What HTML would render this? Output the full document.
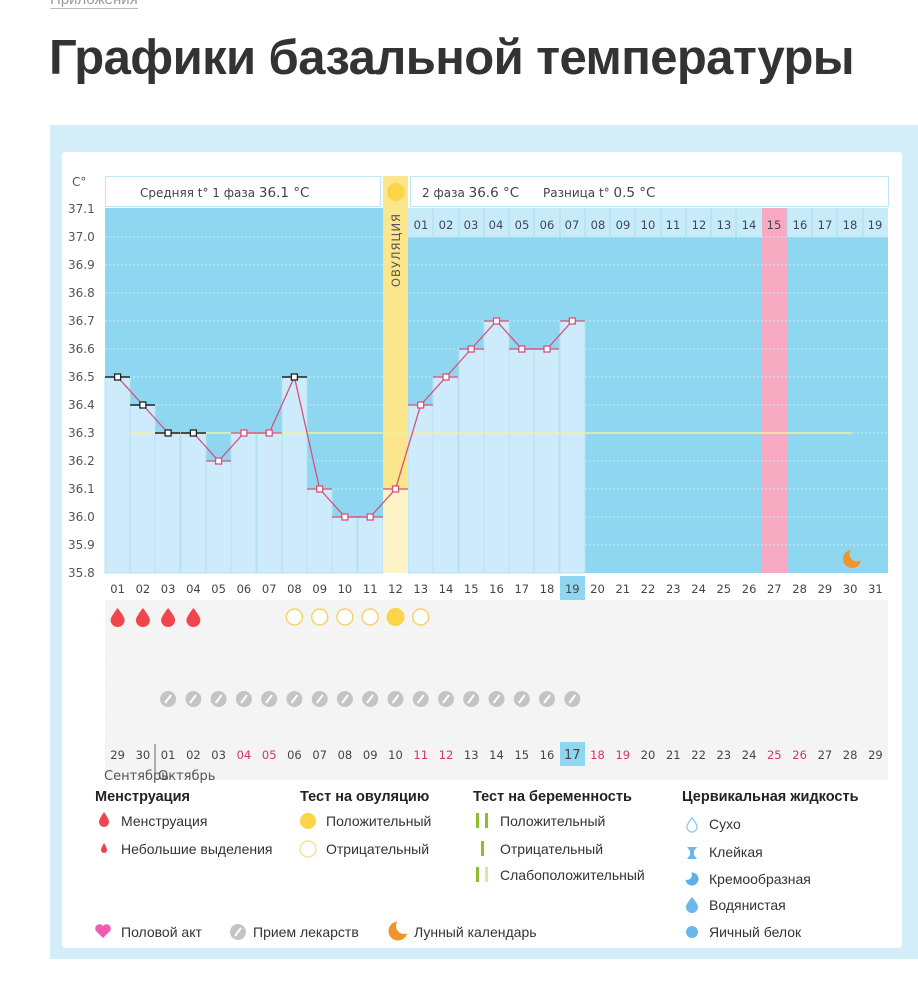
<!DOCTYPE html>
<html><head><meta charset="utf-8"><style>
body{margin:0;width:918px;height:1000px;background:#fff;overflow:hidden;font-family:"Liberation Sans","DejaVu Sans",sans-serif;position:relative}
.t{position:absolute;left:49px;top:30px;font-size:49px;font-weight:bold;color:#333;letter-spacing:-0.6px;white-space:nowrap}
.top{position:absolute;left:50px;top:-9px;font-size:15px;color:#999;border-bottom:1px solid #bbb}
svg{position:absolute;left:0;top:0}
svg text{font-family:"DejaVu Sans","Liberation Sans",sans-serif}
svg .lg text{font-family:"Liberation Sans","DejaVu Sans",sans-serif}
</style></head><body>
<div class="top">Приложения</div>
<div class="t">Графики базальной температуры</div>
<svg width="918" height="1000" viewBox="0 0 918 1000">
<rect x="50" y="125" width="868" height="834" fill="#d3eef8"/>
<rect x="62" y="152" width="840" height="796" fill="#fff" rx="3"/>
<rect x="105" y="208" width="783" height="365" fill="#8fd6f1"/>
<rect x="408" y="208" width="480" height="29" fill="#c7ebf9"/>
<rect x="762" y="208" width="25" height="365" fill="#f7aac2"/>
<g stroke="#c8eefa" stroke-width="1" stroke-dasharray="2,2">
<line x1="105" y1="237" x2="888" y2="237"/><line x1="105" y1="265" x2="888" y2="265"/><line x1="105" y1="293" x2="888" y2="293"/><line x1="105" y1="321" x2="888" y2="321"/><line x1="105" y1="349" x2="888" y2="349"/><line x1="105" y1="377" x2="888" y2="377"/><line x1="105" y1="405" x2="888" y2="405"/><line x1="105" y1="433" x2="888" y2="433"/><line x1="105" y1="461" x2="888" y2="461"/><line x1="105" y1="489" x2="888" y2="489"/><line x1="105" y1="517" x2="888" y2="517"/><line x1="105" y1="545" x2="888" y2="545"/>
</g>
<g fill="#cdebfa" stroke="#b5e0f4" stroke-width="1">
<rect x="105" y="377" width="25" height="196"/><rect x="130" y="405" width="25" height="168"/><rect x="155" y="433" width="25" height="140"/><rect x="181" y="433" width="25" height="140"/><rect x="206" y="461" width="25" height="112"/><rect x="231" y="433" width="25" height="140"/><rect x="257" y="433" width="25" height="140"/><rect x="282" y="377" width="25" height="196"/><rect x="307" y="489" width="25" height="84"/><rect x="332" y="517" width="25" height="56"/><rect x="358" y="517" width="25" height="56"/>
<rect x="408" y="405" width="25" height="168"/><rect x="433" y="377" width="25" height="196"/><rect x="459" y="349" width="25" height="224"/><rect x="484" y="321" width="25" height="252"/><rect x="509" y="349" width="25" height="224"/><rect x="534" y="349" width="25" height="224"/><rect x="560" y="321" width="25" height="252"/>
</g>
<rect x="383" y="176" width="25" height="397" fill="#fbe68c"/>
<rect x="383" y="489" width="25" height="84" fill="#fdf3c6"/>
<line x1="130" y1="433" x2="852" y2="433" stroke="#f3ef9a" stroke-width="1.5"/>
<g stroke="#a9dcf1" stroke-width="1">
<line x1="433" y1="208" x2="433" y2="237"/><line x1="459" y1="208" x2="459" y2="237"/><line x1="484" y1="208" x2="484" y2="237"/><line x1="509" y1="208" x2="509" y2="237"/><line x1="534" y1="208" x2="534" y2="237"/><line x1="560" y1="208" x2="560" y2="237"/><line x1="585" y1="208" x2="585" y2="237"/><line x1="610" y1="208" x2="610" y2="237"/><line x1="635" y1="208" x2="635" y2="237"/><line x1="661" y1="208" x2="661" y2="237"/><line x1="686" y1="208" x2="686" y2="237"/><line x1="711" y1="208" x2="711" y2="237"/><line x1="736" y1="208" x2="736" y2="237"/><line x1="787" y1="208" x2="787" y2="237"/><line x1="812" y1="208" x2="812" y2="237"/><line x1="837" y1="208" x2="837" y2="237"/><line x1="863" y1="208" x2="863" y2="237"/>
</g>
<g font-size="11.5" fill="#445" text-anchor="middle">
<text x="421" y="229">01</text><text x="446" y="229">02</text><text x="471" y="229">03</text><text x="496" y="229">04</text><text x="522" y="229">05</text><text x="547" y="229">06</text><text x="572" y="229">07</text><text x="598" y="229">08</text><text x="623" y="229">09</text><text x="648" y="229">10</text><text x="673" y="229">11</text><text x="699" y="229">12</text><text x="724" y="229">13</text><text x="749" y="229">14</text><text x="774" y="229">15</text><text x="800" y="229">16</text><text x="825" y="229">17</text><text x="850" y="229">18</text><text x="875" y="229">19</text>
</g>
<text x="400" y="250" font-size="11.5" fill="#555" transform="rotate(-90 400 250)" text-anchor="middle" letter-spacing="1">ОВУЛЯЦИЯ</text>
<rect x="105.5" y="176.5" width="275" height="30" fill="#fff" stroke="#bfe6f5"/>
<rect x="410.5" y="176.5" width="478" height="30" fill="#fff" stroke="#bfe6f5"/>
<circle cx="396" cy="192" r="9" fill="#fbd447"/>
<text x="140" y="197" font-size="12" fill="#444">Средняя t° 1 фаза <tspan font-size="13.5">36.1 °C</tspan></text>
<text x="422" y="197" font-size="12" fill="#444">2 фаза <tspan font-size="13.5">36.6 °C</tspan></text>
<text x="543" y="197" font-size="12" fill="#444">Разница t° <tspan font-size="13.5">0.5 °C</tspan></text>
<g font-size="12" fill="#555">
<text x="72" y="186">C°</text>
<text x="68" y="213">37.1</text><text x="68" y="241">37.0</text><text x="68" y="269">36.9</text><text x="68" y="297">36.8</text><text x="68" y="325">36.7</text><text x="68" y="353">36.6</text><text x="68" y="381">36.5</text><text x="68" y="409">36.4</text><text x="68" y="437">36.3</text><text x="68" y="465">36.2</text><text x="68" y="493">36.1</text><text x="68" y="521">36.0</text><text x="68" y="549">35.9</text><text x="68" y="577">35.8</text>
</g>
<polyline fill="none" stroke="#d9507a" stroke-width="1.3" points="117.6,377 142.9,405 168.1,433 193.4,433 218.6,461 243.9,433 269.2,433 294.4,377 319.7,489 344.9,517 370.2,517 395.5,489 420.7,405 446,377 471.2,349 496.5,321 521.8,349 547,349 572.3,321"/>
<g stroke="#222" stroke-width="1.5">
<line x1="105" y1="377" x2="130" y2="377"/><line x1="130" y1="405" x2="155" y2="405"/><line x1="155" y1="433" x2="180" y2="433"/><line x1="181" y1="433" x2="206" y2="433"/><line x1="282" y1="377" x2="307" y2="377"/>
</g>
<g stroke="#d9507a" stroke-width="1.2">
<line x1="206" y1="461" x2="231" y2="461"/><line x1="231" y1="433" x2="256" y2="433"/><line x1="257" y1="433" x2="282" y2="433"/><line x1="307" y1="489" x2="332" y2="489"/><line x1="332" y1="517" x2="357" y2="517"/><line x1="358" y1="517" x2="383" y2="517"/><line x1="383" y1="489" x2="408" y2="489"/><line x1="408" y1="405" x2="433" y2="405"/><line x1="433" y1="377" x2="458" y2="377"/><line x1="459" y1="349" x2="484" y2="349"/><line x1="484" y1="321" x2="509" y2="321"/><line x1="509" y1="349" x2="534" y2="349"/><line x1="534" y1="349" x2="559" y2="349"/><line x1="560" y1="321" x2="585" y2="321"/>
</g>
<g fill="#fff" stroke="#222" stroke-width="1.3">
<rect x="114.6" y="374" width="6" height="6"/><rect x="139.9" y="402" width="6" height="6"/><rect x="165.1" y="430" width="6" height="6"/><rect x="190.4" y="430" width="6" height="6"/><rect x="291.4" y="374" width="6" height="6"/>
</g>
<g fill="#fff" stroke="#d9507a" stroke-width="1.3">
<rect x="215.6" y="458" width="6" height="6"/><rect x="240.9" y="430" width="6" height="6"/><rect x="266.2" y="430" width="6" height="6"/><rect x="316.7" y="486" width="6" height="6"/><rect x="341.9" y="514" width="6" height="6"/><rect x="367.2" y="514" width="6" height="6"/><rect x="392.5" y="486" width="6" height="6"/><rect x="417.7" y="402" width="6" height="6"/><rect x="443" y="374" width="6" height="6"/><rect x="468.2" y="346" width="6" height="6"/><rect x="493.5" y="318" width="6" height="6"/><rect x="518.8" y="346" width="6" height="6"/><rect x="544" y="346" width="6" height="6"/><rect x="569.3" y="318" width="6" height="6"/>
</g>
<circle cx="852" cy="559" r="9" fill="#f0952a"/><circle cx="857" cy="554" r="7.5" fill="#8fd6f1"/>
<rect x="105" y="600" width="783" height="180" fill="#f4f4f4"/>
<g stroke="#f9f9f9" stroke-width="1">
<line x1="105" y1="630" x2="888" y2="630"/><line x1="105" y1="660" x2="888" y2="660"/><line x1="105" y1="685" x2="888" y2="685"/><line x1="105" y1="715" x2="888" y2="715"/><line x1="105" y1="740" x2="888" y2="740"/>
</g>
<rect x="560" y="576" width="25" height="24" fill="#8fd6f1"/>
<rect x="560" y="742" width="25" height="24" fill="#8fd6f1"/>
<g font-size="11.5" fill="#444" text-anchor="middle">
<text x="117.6" y="593">01</text><text x="142.9" y="593">02</text><text x="168.1" y="593">03</text><text x="193.4" y="593">04</text><text x="218.6" y="593">05</text><text x="243.9" y="593">06</text><text x="269.2" y="593">07</text><text x="294.4" y="593">08</text><text x="319.7" y="593">09</text><text x="344.9" y="593">10</text><text x="370.2" y="593">11</text><text x="395.5" y="593">12</text><text x="420.7" y="593">13</text><text x="446" y="593">14</text><text x="471.2" y="593">15</text><text x="496.5" y="593">16</text><text x="521.8" y="593">17</text><text x="547" y="593">18</text><text x="572.3" y="593">19</text><text x="597.5" y="593">20</text><text x="622.8" y="593">21</text><text x="648" y="593">22</text><text x="673.3" y="593">23</text><text x="698.6" y="593">24</text><text x="723.8" y="593">25</text><text x="749.1" y="593">26</text><text x="774.3" y="593">27</text><text x="799.6" y="593">28</text><text x="824.9" y="593">29</text><text x="850.1" y="593">30</text><text x="875.4" y="593">31</text>
</g>
<g font-size="11.5" fill="#444" text-anchor="middle">
<text x="117.6" y="759">29</text><text x="142.9" y="759">30</text><text x="168.1" y="759">01</text><text x="193.4" y="759">02</text><text x="218.6" y="759">03</text><text x="243.9" y="759" fill="#d6336c">04</text><text x="269.2" y="759" fill="#d6336c">05</text><text x="294.4" y="759">06</text><text x="319.7" y="759">07</text><text x="344.9" y="759">08</text><text x="370.2" y="759">09</text><text x="395.5" y="759">10</text><text x="420.7" y="759" fill="#d6336c">11</text><text x="446" y="759" fill="#d6336c">12</text><text x="471.2" y="759">13</text><text x="496.5" y="759">14</text><text x="521.8" y="759">15</text><text x="547" y="759">16</text><text x="572.3" y="759" font-size="13">17</text><text x="597.5" y="759" fill="#d6336c">18</text><text x="622.8" y="759" fill="#d6336c">19</text><text x="648" y="759">20</text><text x="673.3" y="759">21</text><text x="698.6" y="759">22</text><text x="723.8" y="759">23</text><text x="749.1" y="759">24</text><text x="774.3" y="759" fill="#d6336c">25</text><text x="799.6" y="759" fill="#d6336c">26</text><text x="824.9" y="759">27</text><text x="850.1" y="759">28</text><text x="875.4" y="759">29</text>
</g>
<line x1="155" y1="744" x2="155" y2="780" stroke="#666"/>
<text x="104" y="780" font-size="13" fill="#555">Сентябрь</text>
<text x="158" y="780" font-size="13" fill="#555">Октябрь</text>
<g fill="#f0454a">
<path d="M117.6 608 q-7 9 -7 12 a7 7 0 0 0 14 0 q0 -3 -7 -12z"/><path d="M142.9 608 q-7 9 -7 12 a7 7 0 0 0 14 0 q0 -3 -7 -12z"/><path d="M168.1 608 q-7 9 -7 12 a7 7 0 0 0 14 0 q0 -3 -7 -12z"/><path d="M193.4 608 q-7 9 -7 12 a7 7 0 0 0 14 0 q0 -3 -7 -12z"/>
</g>
<g fill="#fff" stroke="#f5d36a" stroke-width="1.5">
<circle cx="294.4" cy="617" r="8"/><circle cx="319.7" cy="617" r="8"/><circle cx="344.9" cy="617" r="8"/><circle cx="370.2" cy="617" r="8"/><circle cx="420.7" cy="617" r="8"/>
</g>
<circle cx="395.5" cy="617" r="9" fill="#fbd447"/>
<g fill="#c4c4c4">
<circle cx="168.1" cy="699" r="8"/><circle cx="193.4" cy="699" r="8"/><circle cx="218.6" cy="699" r="8"/><circle cx="243.9" cy="699" r="8"/><circle cx="269.2" cy="699" r="8"/><circle cx="294.4" cy="699" r="8"/><circle cx="319.7" cy="699" r="8"/><circle cx="344.9" cy="699" r="8"/><circle cx="370.2" cy="699" r="8"/><circle cx="395.5" cy="699" r="8"/><circle cx="420.7" cy="699" r="8"/><circle cx="446" cy="699" r="8"/><circle cx="471.2" cy="699" r="8"/><circle cx="496.5" cy="699" r="8"/><circle cx="521.8" cy="699" r="8"/><circle cx="547" cy="699" r="8"/><circle cx="572.3" cy="699" r="8"/>
</g>
<g stroke="#fff" stroke-width="2">
<line x1="165" y1="703" x2="171" y2="695"/><line x1="190" y1="703" x2="196" y2="695"/><line x1="215.6" y1="703" x2="221.6" y2="695"/><line x1="241" y1="703" x2="247" y2="695"/><line x1="266" y1="703" x2="272" y2="695"/><line x1="291.4" y1="703" x2="297.4" y2="695"/><line x1="316.7" y1="703" x2="322.7" y2="695"/><line x1="342" y1="703" x2="348" y2="695"/><line x1="367" y1="703" x2="373" y2="695"/><line x1="392.5" y1="703" x2="398.5" y2="695"/><line x1="417.7" y1="703" x2="423.7" y2="695"/><line x1="443" y1="703" x2="449" y2="695"/><line x1="468" y1="703" x2="474" y2="695"/><line x1="493.5" y1="703" x2="499.5" y2="695"/><line x1="518.8" y1="703" x2="524.8" y2="695"/><line x1="544" y1="703" x2="550" y2="695"/><line x1="569.3" y1="703" x2="575.3" y2="695"/>
</g>
<g class="lg">
<g font-size="14.5" font-weight="bold" fill="#222">
<text x="95" y="801">Менструация</text><text x="300" y="801">Тест на овуляцию</text><text x="473" y="801">Тест на беременность</text><text x="682" y="801">Цервикальная жидкость</text>
</g>
<g font-size="14" fill="#333">
<text x="121" y="826">Менструация</text><text x="121" y="854">Небольшие выделения</text>
<text x="326" y="826">Положительный</text><text x="326" y="854">Отрицательный</text>
<text x="500" y="826">Положительный</text><text x="500" y="854">Отрицательный</text><text x="500" y="880">Слабоположительный</text>
<text x="709" y="829">Сухо</text><text x="709" y="857">Клейкая</text><text x="709" y="884">Кремообразная</text><text x="709" y="910">Водянистая</text><text x="709" y="937">Яичный белок</text>
<text x="121" y="937">Половой акт</text><text x="253" y="937">Прием лекарств</text><text x="414" y="937">Лунный календарь</text>
</g>
</g>
<path d="M104 812 q-5 7 -5 10 a5 5 0 0 0 10 0 q0 -3 -5 -10z" fill="#f0454a"/>
<path d="M104 843 q-3 5 -3 7 a3 3 0 0 0 6 0 q0 -2 -3 -7z" fill="#f0454a"/>
<circle cx="308" cy="821" r="8" fill="#fbd447"/>
<circle cx="308" cy="849" r="8" fill="#fff" stroke="#f5e09a" stroke-width="1.5"/>
<g fill="#8bbf2a"><rect x="476" y="813" width="3" height="15"/><rect x="485" y="813" width="3" height="15"/><rect x="481" y="841" width="3" height="15"/><rect x="476" y="867" width="3" height="15"/></g>
<rect x="485" y="867" width="3" height="15" fill="#d4e9a8"/>
<path d="M692 818 q-5 6 -5 9 a5 5 0 0 0 10 0 q0 -3 -5 -9z" fill="#fff" stroke="#8cc8ee" stroke-width="1.3"/>
<path d="M687 847 h10 l-3 4 v4 l3 4 h-10 l3 -4 v-4z" fill="#6cb6ea"/>
<circle cx="692" cy="879" r="6.5" fill="#5eaee8"/><circle cx="687" cy="875" r="5" fill="#fff"/>
<path d="M692 897 q-6 7 -6 10 a6 6 0 0 0 12 0 q0 -3 -6 -10z" fill="#6cb6ea"/>
<circle cx="692" cy="932" r="6" fill="#6cb6ea"/>
<path d="M103 938 l-7 -7 a4 4 0 0 1 7 -5 a4 4 0 0 1 7 5z" fill="#f459b4"/>
<circle cx="238" cy="932" r="8" fill="#c4c4c4"/><line x1="235" y1="936" x2="241" y2="928" stroke="#fff" stroke-width="2"/>
<circle cx="398" cy="931" r="9.5" fill="#f0952a"/><circle cx="404" cy="926" r="8" fill="#fff"/>
</svg>
</body></html>
